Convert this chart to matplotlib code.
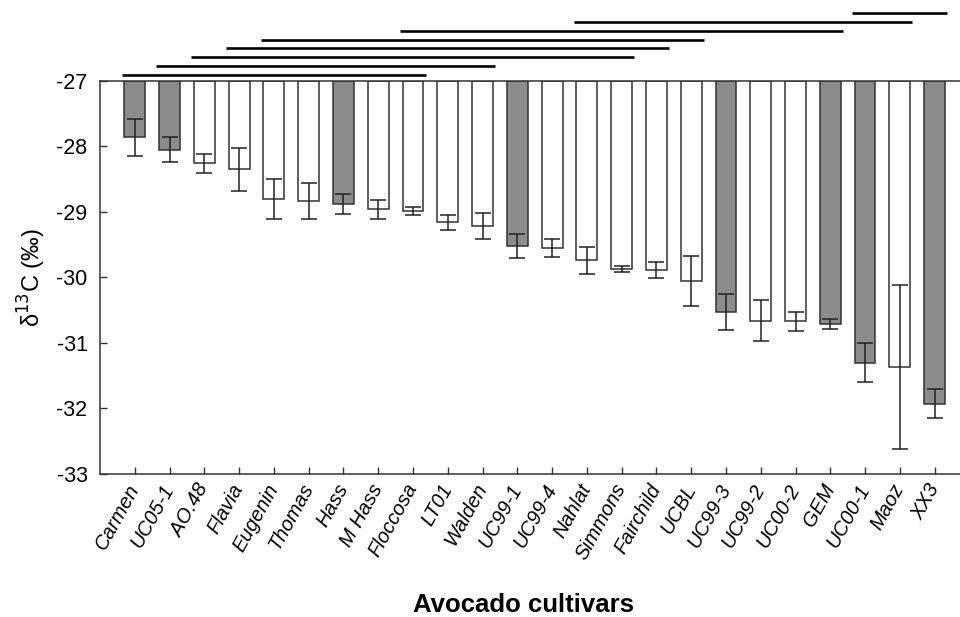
import numpy as np
import matplotlib.pyplot as plt

plt.rcParams['font.family'] = ['Liberation Sans', 'DejaVu Sans']
plt.rcParams['axes.unicode_minus'] = False

cultivars = ['Carmen', 'UC05-1', 'AO.48', 'Flavia', 'Eugenin', 'Thomas', 'Hass',
             'M Hass', 'Floccosa', 'LT01', 'Walden', 'UC99-1', 'UC99-4', 'Nahlat',
             'Simmons', 'Fairchild', 'UCBL', 'UC99-3', 'UC99-2', 'UC00-2', 'GEM',
             'UC00-1', 'Maoz', 'XX3']
d13c = [-27.86, -28.05, -28.26, -28.35, -28.80, -28.83, -28.88, -28.96, -28.98,
        -29.16, -29.21, -29.52, -29.55, -29.74, -29.87, -29.89, -30.05, -30.53,
        -30.66, -30.67, -30.71, -31.30, -31.37, -31.93]
err = [0.28, 0.19, 0.15, 0.33, 0.30, 0.27, 0.15, 0.15, 0.06, 0.12, 0.20, 0.19,
       0.14, 0.21, 0.05, 0.12, 0.38, 0.27, 0.31, 0.15, 0.08, 0.30, 1.25, 0.22]
dark = ['Carmen', 'UC05-1', 'Hass', 'UC99-1', 'UC99-3', 'GEM', 'UC00-1', 'XX3']

# groups of cultivars that do not differ (first, last index)
groups = [(0, 8), (1, 10), (2, 14), (3, 15), (4, 16), (8, 20), (13, 22), (21, 23)]

base = -27
x = np.arange(len(cultivars))
colors = ['#8c8c8c' if c in dark else 'white' for c in cultivars]
heights = np.array(d13c) - base

fig = plt.figure(figsize=(9.6, 6.17), dpi=100)
ax = fig.add_axes([0.1042, 0.2318, 0.8958, 0.637])

ax.bar(x, heights, bottom=base, width=0.6, color=colors, edgecolor='#333333', linewidth=1.1)
ax.errorbar(x, d13c, yerr=err, fmt='none', ecolor='#222222', elinewidth=1.1,
            capsize=6, capthick=1.1)

for k, (i0, i1) in enumerate(groups):
    yy = -26.904 + 0.134 * k
    ax.plot([i0 - 0.38, i1 + 0.36], [yy, yy], color='black', lw=1.9,
            solid_capstyle='butt', clip_on=False)

ax.set_xlim(-1, 23.73)
ax.set_ylim(-33, -27)
ax.set_yticks(np.arange(-33, -26))
ax.set_xticks(x)
ax.set_xticklabels(cultivars, rotation=61, ha='right', va='center',
                   rotation_mode='anchor', fontsize=14.5, style='italic')
ax.tick_params(axis='both', direction='in', length=5, width=1.0, color='#333333')
ax.tick_params(axis='y', labelsize=15.5, pad=9)
ax.tick_params(axis='x', pad=8)

for s in ['left', 'bottom', 'top']:
    ax.spines[s].set_color('#333333')
    ax.spines[s].set_linewidth(1.1)
ax.spines['right'].set_visible(False)

ax.set_ylabel('δ$^{13}$C (‰)', fontsize=17, labelpad=6)
fig.text(0.545, 0.008, 'Avocado cultivars', ha='center', va='baseline',
         fontsize=18.5, fontweight='bold')

fig.savefig('out.png', dpi=100)
